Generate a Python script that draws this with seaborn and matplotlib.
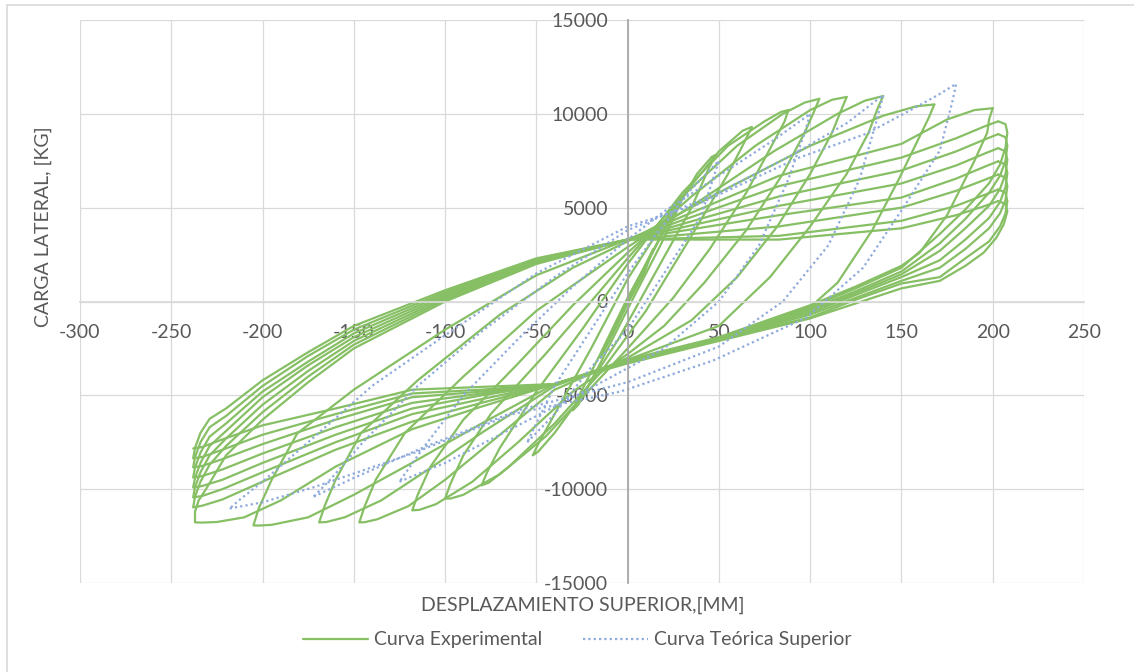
import numpy as np
import pandas as pd
import matplotlib
matplotlib.use('Agg')
import matplotlib.pyplot as plt
import seaborn as sns
from matplotlib.lines import Line2D

# Curva experimental: cada tramo baja de un pico positivo al negativo y sube al siguiente pico
exp_c00 = [(0, 0), (6, 1200), (14, 2800), (9, 1500), (0, -100), (-8, -1700), (-15, -3000),
           (-9, -1700), (0, 0)]
exp_c01 = [(0, 0), (10, 1900), (22, 4200), (28, 5400), (30, 5600), (26, 4600), (18, 3000), (0, -400),
           (-15, -3300), (-27, -5500), (-30, -5800), (-27, -5100), (-15, -2800), (0, 200), (20, 3800),
           (38, 6800), (46, 7700), (48, 7800)]
exp_c02 = [(48, 7800), (44, 7000), (35, 5000), (15, 1500), (-5, -2000), (-25, -5000), (-40, -7000),
           (-49, -8000), (-52, -8200), (-49, -7600), (-40, -6000), (-20, -2500), (0, 1200), (25, 5000),
           (50, 8000), (63, 9100), (68, 9300)]
exp_c03 = [(68, 9300), (64, 8500), (55, 6800), (35, 3500), (10, -500), (-15, -3800), (-40, -6500),
           (-65, -8800), (-76, -9650), (-80, -9800), (-77, -9100), (-70, -7800), (-50, -4800),
           (-25, -1500), (0, 2000), (30, 5800), (55, 8300), (75, 9600), (84, 10100), (88, 10200)]
exp_c04 = [(88, 10200), (86, 9600), (80, 8500), (65, 5800), (45, 2800), (25, 200), (0, -2500),
           (-20, -4600), (-45, -7200), (-70, -9200), (-90, -10300), (-97, -10500), (-100, -10500),
           (-97, -9700), (-90, -8200), (-75, -6000), (-45, -2800), (-20, 0), (0, 2300), (30, 5600),
           (60, 8300), (85, 10000), (97, 10600), (105, 10800)]
exp_c05 = [(105, 10800), (102, 10100), (97, 9000), (85, 6800), (65, 3800), (42, 1000), (20, -1300),
           (0, -2800), (-30, -4800), (-60, -7500), (-85, -9600), (-105, -10800), (-114, -11100),
           (-118, -11130), (-115, -10300), (-108, -8800), (-90, -6300), (-60, -3300), (-30, -200),
           (0, 2600), (35, 5600), (70, 8300), (100, 10200), (112, 10750), (120, 10900)]
exp_c06 = [(120, 10900), (117, 10200), (112, 9000), (100, 6800), (82, 4000), (60, 1300), (35, -1000),
           (0, -3000), (-40, -4700), (-75, -7500), (-100, -9500), (-120, -10900), (-137, -11600),
           (-144, -11760), (-147, -11770), (-144, -10900), (-138, -9500), (-122, -7000), (-90, -4000),
           (-50, -500), (0, 2900), (40, 5400), (80, 8000), (115, 10000), (130, 10700), (140, 10950)]
exp_c07 = [(140, 10950), (137, 10300), (132, 9000), (120, 6800), (100, 4000), (78, 1300), (50, -1300),
           (0, -3100), (-40, -4500), (-80, -7000), (-110, -9000), (-135, -10600), (-155, -11500),
           (-165, -11750), (-169, -11770), (-166, -10900), (-160, -9500), (-146, -7000), (-115, -4200),
           (-70, -700), (-30, 1800), (0, 3200), (50, 5800), (100, 8300), (140, 9900), (158, 10400),
           (168, 10500)]
exp_c08 = [(168, 10500), (165, 9800), (160, 8800), (149, 6600), (134, 3800), (115, 1000), (100, -300),
           (50, -2000), (0, -3200), (-40, -4400), (-80, -6500), (-120, -8700), (-150, -10300),
           (-175, -11500), (-195, -11900), (-202, -11940), (-205, -11930), (-202, -11000),
           (-195, -9500), (-181, -7030), (-150, -4700), (-100, -1500), (-50, 1400), (0, 3300),
           (83, 6700), (150, 8400), (175, 9700), (190, 10200), (200, 10300)]
exp_c09 = [(200, 10300), (198, 9700), (197, 9000), (190, 7500), (175, 4600), (160, 2600), (150, 1900),
           (125, 800), (100, -200), (50, -1900), (0, -3100), (-40, -4400), (-80, -5600), (-118, -6800),
           (-160, -8800), (-190, -10600), (-210, -11500), (-225, -11750), (-233, -11780),
           (-237, -11770), (-237, -11200), (-235, -10600), (-231, -10000), (-220, -8200),
           (-200, -6300), (-175, -4300), (-150, -2500), (-100, 0), (-50, 2000), (0, 3300), (83, 6150),
           (150, 7670), (180, 8700), (196, 9350), (203, 9600)]
exp_c10 = [(203, 9600), (207, 9450), (208, 9000), (207, 8200), (204, 7300), (198, 6300), (185, 4900),
           (171, 3600), (150, 1800), (125, 700), (100, -300), (50, -2000), (0, -3200), (-40, -4400),
           (-80, -5400), (-118, -6400), (-160, -7900), (-200, -9600), (-222, -10550), (-233, -10880),
           (-238, -10970), (-237, -10400), (-234, -9600), (-229, -8700), (-220, -7700), (-200, -5900),
           (-175, -4000), (-150, -2300), (-100, 100), (-50, 2050), (0, 3300), (83, 5600), (150, 6980),
           (180, 8000), (196, 8650), (203, 8920)]
exp_c11 = [(203, 8920), (207, 8750), (208, 8300), (207, 7500), (204, 6700), (198, 5800), (185, 4400),
           (171, 3100), (150, 1600), (125, 550), (100, -400), (50, -2000), (0, -3200), (-40, -4400),
           (-80, -5200), (-118, -6000), (-160, -7500), (-200, -9100), (-222, -10000), (-233, -10360),
           (-238, -10440), (-237, -9900), (-234, -9100), (-229, -8200), (-220, -7300), (-200, -5500),
           (-175, -3700), (-150, -2100), (-100, 200), (-50, 2100), (0, 3300), (83, 5100), (150, 6290),
           (180, 7250), (196, 7900), (203, 8170)]
exp_c12 = [(203, 8170), (207, 8000), (208, 7550), (207, 6800), (204, 6000), (198, 5100), (185, 3900),
           (171, 2700), (150, 1450), (125, 450), (100, -500), (50, -2000), (0, -3200), (-40, -4400),
           (-80, -5000), (-118, -5700), (-160, -7100), (-200, -8600), (-222, -9500), (-233, -9830),
           (-238, -9910), (-237, -9400), (-234, -8600), (-229, -7700), (-220, -6900), (-200, -5100),
           (-175, -3400), (-150, -1900), (-100, 300), (-50, 2150), (0, 3300), (83, 4600), (150, 5540),
           (180, 6550), (196, 7200), (203, 7470)]
exp_c13 = [(203, 7470), (207, 7300), (208, 6850), (207, 6100), (204, 5300), (198, 4450), (185, 3300),
           (171, 2200), (150, 1300), (125, 350), (100, -600), (50, -2000), (0, -3200), (-40, -4400),
           (-80, -4900), (-118, -5400), (-160, -6700), (-200, -8100), (-222, -8950), (-233, -9300),
           (-238, -9380), (-237, -8850), (-234, -8050), (-229, -7200), (-220, -6500), (-200, -4800),
           (-175, -3200), (-150, -1700), (-100, 400), (-50, 2200), (0, 3300), (83, 4000), (150, 5000),
           (180, 5900), (196, 6500), (203, 6770)]
exp_c14 = [(203, 6770), (207, 6600), (208, 6150), (207, 5400), (204, 4700), (198, 3900), (185, 2800),
           (171, 1800), (150, 1100), (125, 200), (100, -700), (50, -2000), (0, -3200), (-40, -4400),
           (-80, -4800), (-118, -5100), (-160, -6300), (-200, -7600), (-222, -8400), (-233, -8760),
           (-238, -8840), (-237, -8300), (-234, -7500), (-229, -6700), (-220, -6100), (-200, -4500),
           (-175, -2900), (-150, -1500), (-100, 500), (-50, 2250), (0, 3300), (83, 3500), (150, 4300),
           (180, 5100), (196, 5700), (203, 5970)]
exp_c15 = [(203, 5970), (207, 5800), (208, 5350), (207, 4700), (204, 4000), (198, 3200), (185, 2300),
           (171, 1300), (150, 960), (125, 100), (100, -850), (50, -2000), (0, -3200), (-40, -4400),
           (-80, -4700), (-118, -4900), (-160, -6000), (-200, -7100), (-222, -7900), (-233, -8280),
           (-238, -8360), (-237, -7800), (-234, -7000), (-229, -6250), (-220, -5700), (-200, -4200),
           (-175, -2700), (-150, -1300), (-100, 600), (-50, 2300), (0, 3300), (83, 3300), (150, 3900),
           (180, 4600), (196, 5100), (203, 5350)]
exp_c16 = [(203, 5350), (207, 5200), (208, 4800), (206, 4100), (202, 3400), (195, 2600), (185, 1900),
           (171, 1100), (150, 700), (125, -100), (100, -900), (50, -2100), (0, -3300), (-40, -4400),
           (-80, -4550), (-118, -4700), (-160, -5700), (-200, -6600), (-222, -7350), (-233, -7750),
           (-238, -7830)]

# Curva teórica superior
teo_c1 = [(-55, -7500), (-40, -6000), (-20, -3500), (0, -1500), (20, 1500), (40, 4500), (50, 7500),
          (35, 6000), (15, 3500), (0, 1500), (-20, -1500), (-40, -4500), (-55, -7500)]
teo_c2 = [(-125, -9600), (-100, -8600), (-60, -6600), (-20, -4600), (20, -2500), (50, 0), (72, 3000),
          (88, 6500), (97, 9000), (100, 10000), (80, 8600), (50, 6700), (20, 4800), (0, 3300),
          (-30, 800), (-60, -2000), (-90, -5000), (-112, -7800), (-125, -9600)]
teo_c3 = [(-172, -10400), (-150, -9400), (-110, -7700), (-60, -5800), (0, -4300), (50, -2400),
          (85, 0), (110, 3000), (127, 6500), (136, 9500), (140, 11000), (120, 9500), (90, 7800),
          (50, 5800), (0, 3800), (-40, 1300), (-80, -1600), (-115, -4500), (-145, -7500),
          (-163, -9500), (-172, -10400)]
teo_c4 = [(-218, -11030), (-200, -10700), (-172, -9900), (-118, -8100), (-63, -6000), (-4, -4800),
          (47, -3140), (98, -850), (129, 1800), (151, 5000), (171, 8040), (178, 10700), (180, 11600),
          (170, 11000), (155, 10200), (131, 8950), (94, 7670), (39, 5200), (0, 4000), (-50, 1500),
          (-100, -1800), (-140, -4500), (-175, -7500), (-200, -9600), (-213, -10600), (-218, -11030)]

x_ticks = [-300, -250, -200, -150, -100, -50, 0, 50, 100, 150, 200, 250]
y_ticks = [-15000, -10000, -5000, 0, 5000, 10000, 15000]

exp_tramos = [exp_c00, exp_c01, exp_c02, exp_c03, exp_c04, exp_c05, exp_c06, exp_c07, exp_c08,
              exp_c09, exp_c10, exp_c11, exp_c12, exp_c13, exp_c14, exp_c15, exp_c16]
teo_tramos = [teo_c1, teo_c2, teo_c3, teo_c4]


def to_frame(tramos):
    frames = []
    for i, pts in enumerate(tramos):
        d = pd.DataFrame(pts, columns=['x', 'y'])
        d['tramo'] = i
        frames.append(d)
    return pd.concat(frames, ignore_index=True)


df_exp = to_frame(exp_tramos)
df_teo = to_frame(teo_tramos)

sns.set_theme(style='white')
plt.rcParams['font.family'] = ['Lato', 'DejaVu Sans']
plt.rcParams['axes.unicode_minus'] = False

verde = '#86bf64'
azul = '#8faadc'
gris_txt = '#595959'
fs = 14

fig = plt.figure(figsize=(11.34, 6.72), dpi=100)
ax = fig.add_axes([80 / 1134, 89 / 672, 1004 / 1134, 563 / 672])

sns.lineplot(data=df_exp, x='x', y='y', units='tramo', estimator=None, sort=False,
             color=verde, lw=1.6, legend=False, ax=ax)
sns.lineplot(data=df_teo, x='x', y='y', units='tramo', estimator=None, sort=False,
             color=azul, lw=1.6, linestyle=(0, (1, 1.4)), legend=False, ax=ax)

ax.set_xlim(-300, 250)
ax.set_ylim(-15000, 15000)
ax.set_xticks(x_ticks)
ax.set_yticks(y_ticks)
ax.set_xticklabels([str(v) for v in x_ticks])
ax.set_yticklabels([str(v) for v in y_ticks])
ax.grid(True, color='#d9d9d9', lw=0.9)
ax.set_axisbelow(True)

for s in ['top', 'right']:
    ax.spines[s].set_visible(False)
ax.spines['left'].set_position(('data', 0))
ax.spines['bottom'].set_position(('data', 0))
ax.spines['left'].set_color('#a6a6a6')
ax.spines['bottom'].set_color('#d9d9d9')
ax.tick_params(axis='x', length=0, pad=16, labelsize=fs, labelcolor=gris_txt)
ax.tick_params(axis='y', length=0, pad=14, labelsize=fs, labelcolor=gris_txt)
ax.set_xlabel('')
ax.set_ylabel('')

fig.text(583 / 1134, 1 - 605 / 672, 'DESPLAZAMIENTO SUPERIOR,[MM]', ha='center', va='center',
         fontsize=fs, color=gris_txt)
fig.text(43 / 1134, 1 - 227 / 672, 'CARGA LATERAL, [KG]', ha='center', va='center',
         rotation=90, fontsize=fs, color=gris_txt)

handles = [Line2D([], [], color=verde, lw=1.6),
           Line2D([], [], color=azul, lw=1.6, linestyle=(0, (1, 1.4)))]
leg = fig.legend(handles, ['Curva Experimental', 'Curva Teórica Superior'], loc='center',
                 bbox_to_anchor=(577 / 1134, 1 - 640 / 672), ncol=2, frameon=False,
                 fontsize=fs, handlelength=3.35, handletextpad=0.3, columnspacing=2.1)
for t in leg.get_texts():
    t.set_color(gris_txt)

# marco exterior del gráfico
fig.add_artist(Line2D([7 / 1134, 7 / 1134], [0, 1 - 5 / 672], color='#d9d9d9', lw=1.2,
                      transform=fig.transFigure))
fig.add_artist(Line2D([7 / 1134, 1], [1 - 5 / 672, 1 - 5 / 672], color='#d9d9d9', lw=1.2,
                      transform=fig.transFigure))

fig.savefig('out.png', dpi=100)
